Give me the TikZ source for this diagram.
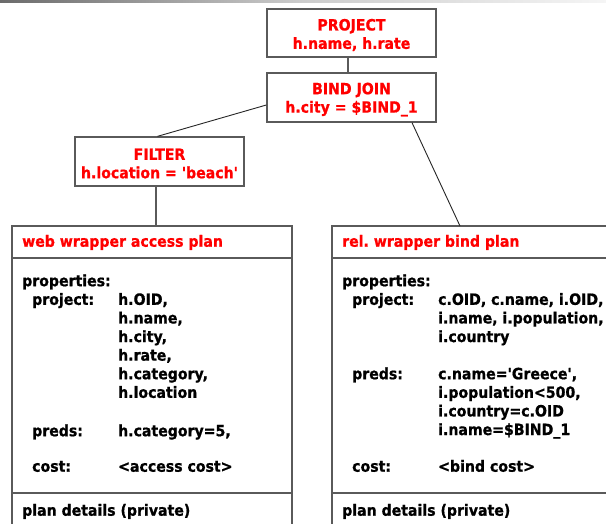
\documentclass[tikz,border=0pt]{standalone}
\usepackage{fontspec}
\setmainfont{DejaVu Sans}[FakeStretch=0.91, Ligatures=TeXOff, BoldFeatures={FakeBold=0.9}]
\usetikzlibrary{calc}
\definecolor{opred}{RGB}{255,0,0}
\definecolor{frame}{RGB}{90,90,90}

\begin{document}
\begin{tikzpicture}[x=1pt,y=-1pt,
  every node/.style={font=\fontsize{15.5}{18.4}\selectfont\bfseries\frenchspacing, inner sep=0pt},
  opbox/.style={draw=frame, line width=1.3pt, fill=white,
                minimum width=169pt, minimum height=49pt},
  optext/.style={text=opred, align=center},
  txt/.style={anchor=mid west, text=black},
  head/.style={anchor=mid west, text=opred},
  plan/.style={draw=frame, line width=1.3pt},
  link/.style={draw=black!85, line width=0.9pt},
  stem/.style={draw=frame, line width=1.3pt},
]
\clip (0,0) rectangle (606,524);
\fill[white] (0,0) rectangle (606,524);

% shaded rule along the top edge
\shade[left color=black!58, right color=black!20] (0,0) rectangle (303,2.2);
\shade[left color=black!20, right color=black!4] (303,0) rectangle (606,2.2);

% operator boxes
\node[opbox, minimum height=48pt] (pj) at (351.5,33) {};
\node[optext] (pjt) at ($(pj.center)+(0,2)$) {PROJECT\\h.name, h.rate};
\node[opbox] (bj) at (351.5,97.5) {};
\node[optext] (bjt) at ($(bj.center)+(0,2)$) {BIND JOIN\\h.city = \$BIND\_1};
\node[opbox] (flt) at (159.5,161.5) {};
\node[optext] (fltt) at ($(flt.center)+(0,2)$) {FILTER\\h.location = 'beach'};

% plan boxes
\coordinate (lbtop) at (156,226);
\coordinate (rbtop) at (460,226);
\draw[plan] (12,540) -- (12,226) -- (292,226) -- (292,540);
\draw[plan] (12,258) -- (292,258);
\draw[plan] (12,493) -- (292,493);
\draw[plan] (332,540) -- (332,226) -- (620,226);
\draw[plan] (332,258) -- (620,258);
\draw[plan] (332,493) -- (620,493);

% connectors
\draw[stem] ($(pj.south)+(-3.5,0)$) -- ($(bj.north)+(-3.5,0)$);
\draw[link] ($(bj.west)+(0,7.5)$) -- ($(flt.north)+(-2,0)$);
\draw[stem] (flt.south -| lbtop) -- (lbtop);
\draw[link] ($(bj.south)+(60.5,0)$) -- (rbtop);

% web wrapper access plan
\node[head] (lh) at (22,244) {web wrapper access plan};
\node[txt] (lp0) at (22,283.5) {properties:};
\node[txt] (lp1) at (32,302.1) {project:};
\node[txt] (lv1) at (118,302.1) {h.OID,};
\node[txt] (lv2) at (118,320.7) {h.name,};
\node[txt] (lv3) at (118,339.3) {h.city,};
\node[txt] (lv4) at (118,357.9) {h.rate,};
\node[txt] (lv5) at (118,376.5) {h.category,};
\node[txt] (lv6) at (118,395.1) {h.location};
\node[txt] (lp2) at (32,433.5) {preds:};
\node[txt] (lv7) at (118,433.5) {h.category=5,};
\node[txt] (lp3) at (32,469) {cost:};
\node[txt] (lv8) at (118,469) {<access cost>};
\node[txt] (ld) at (22,513) {plan details (private)};

% rel. wrapper bind plan
\node[head] (rh) at (342,244) {rel. wrapper bind plan};
\node[txt] (rp0) at (342,283.5) {properties:};
\node[txt] (rp1) at (352,302.1) {project:};
\node[txt] (rv1) at (438,302.1) {c.OID, c.name, i.OID,};
\node[txt] (rv2) at (438,320.7) {i.name, i.population,};
\node[txt] (rv3) at (438,339.3) {i.country};
\node[txt] (rp2) at (352,376.5) {preds:};
\node[txt] (rv4) at (438,376.5) {c.name='Greece',};
\node[txt] (rv5) at (438,395.1) {i.population<500,};
\node[txt] (rv6) at (438,413.7) {i.country=c.OID};
\node[txt] (rv7) at (438,432.3) {i.name=\$BIND\_1};
\node[txt] (rp3) at (352,469) {cost:};
\node[txt] (rv8) at (438,469) {<bind cost>};
\node[txt] (rd) at (342,513) {plan details (private)};
\end{tikzpicture}
\end{document}
